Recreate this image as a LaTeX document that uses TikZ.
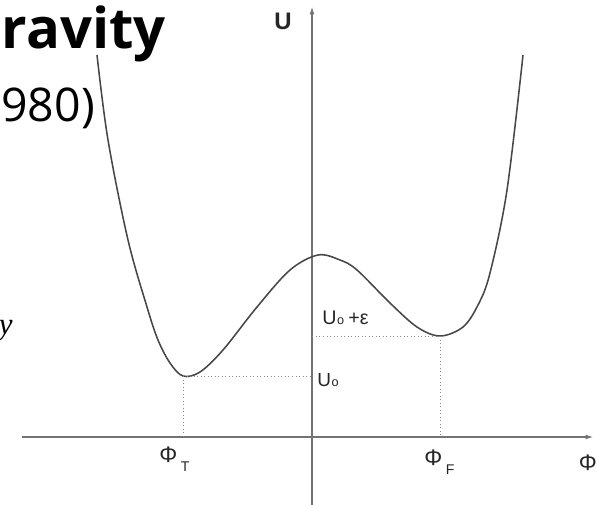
\documentclass[tikz,border=0pt]{standalone}
\usepackage{fontspec}
\setmainfont{Liberation Sans}
\newfontfamily\slidefont{Open Sans}
\newfontfamily\serifit{Liberation Serif}
\usetikzlibrary{arrows.meta}

\newcommand\phisub[1]{Φ\kern2.5pt\raisebox{-6pt}{\fontsize{10}{10}\selectfont #1}}

\begin{document}
\begin{tikzpicture}[x=0.025cm,y=-0.025cm,
  axis/.style={draw=black!55,line width=1.4pt,-{Latex[length=6pt,width=3.5pt]}},
  potential/.style={draw=black!72,line width=1.1pt},
  guide/.style={draw=black!45,line width=0.7pt,dash pattern=on 0.7pt off 1.8pt},
  lab/.style={text=black!85,inner sep=0pt},
  frag/.style={inner sep=0pt,text=black}
]
  \useasboundingbox (0,0) rectangle (597,505);
  \clip (0,0) rectangle (597,505);

  % cut-off slide text
  \node[frag,anchor=base east,font={\slidefont\bfseries\fontsize{40}{40}\selectfont}] (title) at (166,49) {ravity};
  \node[frag,anchor=base east,font={\slidefont\fontsize{33}{33}\selectfont}] (year) at (95,122) {980)};
  \node[frag,anchor=base east,font={\serifit\itshape\fontsize{22}{22}\selectfont}] (word) at (13,334) {y};

  % axes
  \coordinate (o) at (312,437);
  \coordinate (xl) at (22,437);
  \coordinate (xr) at (594,437);
  \coordinate (yb) at (312,505);
  \coordinate (yt) at (312,6);
  \draw[axis] (xl) -- (xr);
  \draw[axis] (yb) -- (yt);

  % double well
  \draw[potential] plot[smooth,tension=0.55] coordinates {
    (97,55) (108,140) (128,240) (147,307) (158,340) (170,363) (183,376)
    (200,372) (223,350) (257,307) (290,270) (318,255) (340,260) (357,270)
    (390,303) (417,327) (440,336) (463,327) (478,305) (490,273) (507,190) (523,55)};

  \coordinate (minT) at (183,376);
  \coordinate (minF) at (440,336);
  \draw[guide] (minT) -- (minT -| o);
  \draw[guide] (minT) -- (minT |- o);
  \draw[guide] (minF) -- (minF -| o);
  \draw[guide] (minF) -- (minF |- o);

  % labels
  \node[lab,font={\bfseries\fontsize{17}{17}\selectfont}] (ulab) at (283,21) {U};
  \node[lab,anchor=west,font={\fontsize{13.5}{13.5}\selectfont}] (u0) at (317,380) {U\kern0.5pt{\fontsize{9}{9}\selectfont o}};
  \node[lab,anchor=west,font={\fontsize{14}{14}\selectfont}] (u0eps) at (322,318) {U\kern0.5pt{\fontsize{9}{9}\selectfont o}\kern3pt+ε};
  \node[lab,anchor=west,font={\fontsize{16}{16}\selectfont}] (phiT) at (159,459) {\phisub{T}};
  \node[lab,anchor=west,font={\fontsize{16}{16}\selectfont}] (phiF) at (424,462) {\phisub{F}};
  \node[lab,anchor=east,font={\fontsize{16}{16}\selectfont}] (phi) at (597,463) {Φ};
\end{tikzpicture}
\end{document}
